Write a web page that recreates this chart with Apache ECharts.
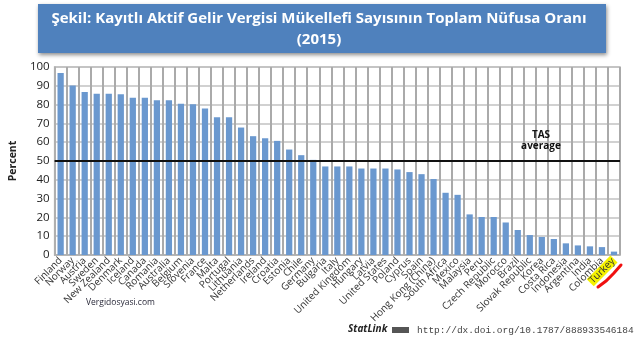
<!DOCTYPE html>
<html>
<head>
<meta charset="utf-8">
<script src="https://cdn.jsdelivr.net/npm/echarts@6/dist/echarts.min.js"></script>
<style>
    html, body { margin: 0; padding: 0; background: #fff; }
    #chart { width: 638px; height: 351px; }
</style>
</head>
<body>
<div id="chart"></div>
<script>
var countries = ['Finland', 'Norway', 'Austria', 'Sweden', 'New Zealand', 'Denmark', 'Iceland', 'Canada',
    'Romania', 'Australia', 'Belgium', 'Slovenia', 'France', 'Malta', 'Portugal', 'Lithuania',
    'Netherlands', 'Ireland', 'Croatia', 'Estonia', 'Chile', 'Germany', 'Bulgaria', 'Italy',
    'United Kingdom', 'Hungary', 'Latvia', 'United States', 'Poland', 'Cyprus', 'Spain',
    'Hong Kong (China)', 'South Africa', 'Mexico', 'Malaysia', 'Peru', 'Czech Republic', 'Morocco',
    'Brazil', 'Slovak Republic', 'Korea', 'Costa Rica', 'Indonesia', 'Argentina', 'India',
    'Colombia', 'Turkey'];
var percent = [96.8, 90.1, 86.7, 85.8, 85.8, 85.5, 83.7, 83.7,
    82.3, 82.3, 80.5, 80.2, 77.9, 73.3, 73.3, 67.8,
    63.2, 62.1, 60.7, 56.1, 53.1, 50.6, 47.1, 47.1,
    47.1, 46.0, 46.0, 46.0, 45.5, 44.1, 43.0,
    40.4, 33.1, 32.0, 21.6, 20.2, 20.2, 17.3,
    13.3, 10.6, 9.6, 8.5, 6.2, 5.1, 4.6,
    4.2, 1.8];
var yTicks = [0, 10, 20, 30, 40, 50, 60, 70, 80, 90, 100];
var tasAverage = 50;

var yMin = yTicks[0];
var yMax = yTicks[yTicks.length - 1];

var myChart = echarts.init(document.getElementById('chart'));

var option = {
    animation: false,
    grid: { left: 30, right: 18, top: 67, bottom: 96, show: true, borderColor: '#b8b8b8', borderWidth: 1.5 },
    xAxis: {
        type: 'category',
        data: countries,
        boundaryGap: true,
        axisLine: { lineStyle: { color: '#b0b0b0', width: 1.5 } },
        axisTick: { show: false },
        splitLine: { show: true, interval: 0, lineStyle: { color: '#aaaaaa', width: 2 } },
        axisLabel: {
            interval: 0,
            rotate: 45,
            margin: 4,
            fontFamily: 'Open Sans',
            fontSize: 10,
            color: '#333',
            formatter: function (v) {
                return v === 'Turkey' ? '{hl|' + v + '}' : v;
            },
            rich: {
                hl: { backgroundColor: '#f5f200', fontFamily: 'Open Sans', fontSize: 10, color: '#333', padding: [0, 1] }
            }
        }
    },
    yAxis: {
        type: 'value',
        min: yMin,
        max: yMax,
        interval: 10,
        name: 'Percent',
        nameLocation: 'middle',
        nameGap: 20,
        nameRotate: 90,
        nameTextStyle: { fontFamily: 'Open Sans', fontWeight: 'bold', fontSize: 10.5, color: '#222' },
        axisLine: { show: true, lineStyle: { color: '#b0b0b0', width: 1.5 } },
        axisTick: { show: false },
        axisLabel: { margin: 5, fontFamily: 'Open Sans', fontSize: 11.5, color: '#222' },
        splitLine: { lineStyle: { color: '#c2c2c2', width: 1.5 } }
    },
    series: [
        {
            type: 'bar',
            data: percent,
            barWidth: '52%',
            itemStyle: { color: '#6a98cf' },
            markLine: {
                symbol: 'none',
                silent: true,
                lineStyle: { color: '#111', width: 2, type: 'solid' },
                label: {
                    position: 'insideEndTop',
                    formatter: 'TAS\naverage',
                    align: 'center',
                    padding: [0, 148, 4, 0],
                    fontFamily: 'Open Sans',
                    fontWeight: 'bold',
                    fontSize: 10,
                    lineHeight: 11,
                    color: '#111'
                },
                data: [{ yAxis: tasAverage }]
            }
        }
    ],
    graphic: [
        {
            type: 'rect',
            left: 38, top: 4,
            shape: { width: 568, height: 49 },
            style: { fill: '#4f81bd', shadowBlur: 4, shadowOffsetY: 2, shadowOffsetX: 1, shadowColor: 'rgba(0,0,0,0.45)' },
            z: 10
        },
        {
            type: 'text',
            left: 'center', top: 8,
            style: {
                text: 'Şekil: Kayıtlı Aktif Gelir Vergisi Mükellefi Sayısının Toplam Nüfusa Oranı\n(2015)',
                fill: '#fff',
                font: 'bold 15px "Open Sans"',
                textAlign: 'center',
                lineHeight: 21
            },
            z: 11
        },
        {
            type: 'text',
            left: 86, top: 298,
            style: { text: 'Vergidosyasi.com', fill: '#2a2a3a', font: '8.5px "Open Sans"' }
        },
        {
            type: 'text',
            left: 348, top: 324,
            style: { text: 'StatLink', fill: '#222', font: 'italic bold 10px "Open Sans"' }
        },
        {
            type: 'rect',
            left: 392, top: 327,
            shape: { width: 17, height: 6 },
            style: { fill: '#555' }
        },
        {
            type: 'text',
            left: 417, top: 325,
            style: { text: 'http://dx.doi.org/10.1787/888933546184', fill: '#444', font: '9.5px "Liberation Mono"' }
        },
        {
            type: 'polyline',
            shape: { points: [[598, 287], [606, 281], [614, 273], [621, 265]] },
            style: { stroke: '#f01010', lineWidth: 3, lineCap: 'round', fill: null }
        }
    ]
};

myChart.setOption(option);
window.addEventListener('resize', function () {
    myChart.resize();
});
</script>
</body>
</html>
